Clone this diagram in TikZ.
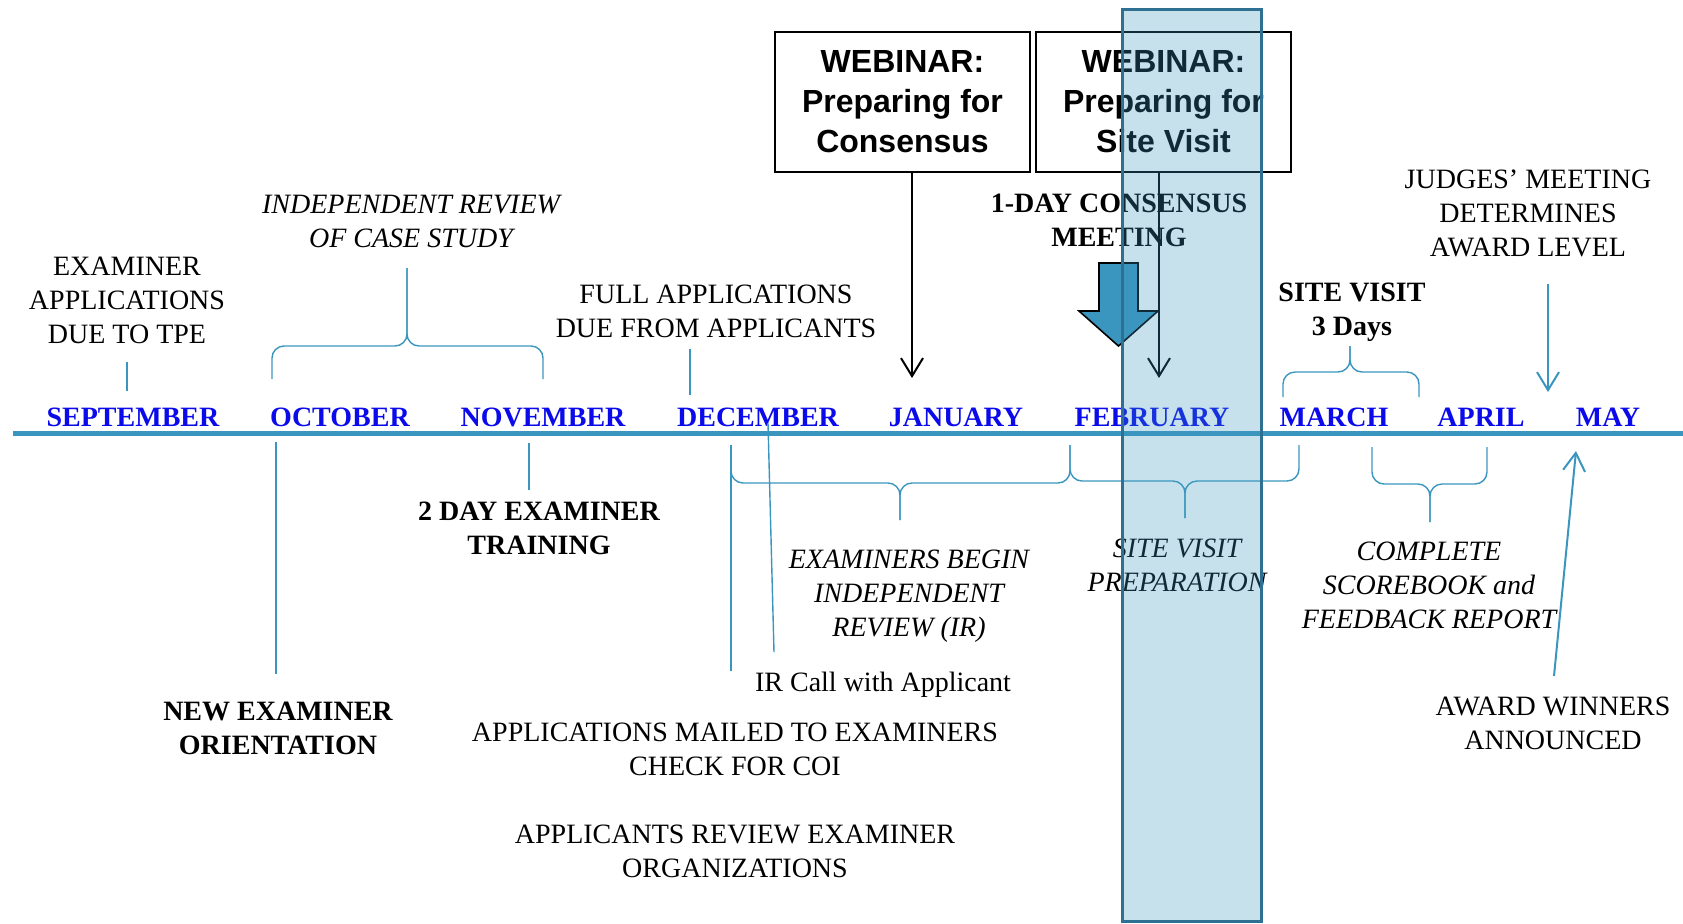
\documentclass[tikz,border=0pt]{standalone}
\usepackage{fontspec}
\setmainfont{Liberation Serif}
\newfontfamily\boxfont{Liberation Sans}
\usetikzlibrary{arrows.meta, positioning}
\definecolor{lineblue}{RGB}{58,150,190}
\definecolor{darkteal}{RGB}{45,112,145}
\definecolor{monthblue}{RGB}{10,10,235}

\begin{document}
\begin{tikzpicture}[
    x=0.5pt, y=-0.5pt,
    every node/.style={align=center, inner sep=0pt, font=\fontsize{14}{17}\selectfont},
    month/.style={font=\fontsize{14}{17}\selectfont\bfseries, text=monthblue, anchor=base},
    boldtxt/.style={font=\fontsize{14}{17}\selectfont\bfseries},
    italtxt/.style={font=\fontsize{14}{17}\selectfont\itshape},
    webinar/.style={draw=black, line width=1pt, minimum width=127.5pt, minimum height=70pt, font=\fontsize{16}{20}\selectfont\boxfont\bfseries},
    tick/.style={draw=lineblue, line width=0.7pt},
    brace/.style={draw=lineblue, line width=0.7pt, rounded corners=6pt},
    arrow/.style={->, >={Straight Barb[length=9pt, width=11pt]}, line width=1pt}
]
\useasboundingbox (0,0) rectangle (1683,923);

% months along the line
\draw[lineblue, line width=2.5pt] (13,433.5) -- (1683,433.5);
\node[month] (sep) at (133,426) {SEPTEMBER};
\node[month] (oct) at (340,426) {OCTOBER};
\node[month] (nov) at (543,426) {NOVEMBER};
\node[month] (dec) at (758,426) {DECEMBER};
\node[month] (jan) at (956,426) {JANUARY};
\node[month] (feb) at (1152,426) {FEBRUARY};
\node[month] (mar) at (1334,426) {MARCH};
\node[month] (apr) at (1481,426) {APRIL};
\node[month] (may) at (1608,426) {MAY};

% above the line
\node (examapp) at (127,300) {EXAMINER\\APPLICATIONS\\DUE TO TPE};
\node[italtxt] (casestudy) at (411,221) {INDEPENDENT REVIEW\\OF CASE STUDY};
\node (fullapp) at (716,311) {FULL APPLICATIONS\\DUE FROM APPLICANTS};
\node[webinar] (webcons) at (902.5,102) {WEBINAR:\\Preparing for\\Consensus};
\node[webinar] (website) at (1163.5,102) {WEBINAR:\\Preparing for\\Site Visit};
\node[boldtxt] (consmeet) at (1119,220) {1-DAY CONSENSUS\\MEETING};
\node[boldtxt] (sitevisit) at (1352,312) {SITE VISIT\\3 Days};
\node (judges) at (1528,213) {JUDGES' MEETING\\DETERMINES\\AWARD LEVEL};

\draw[tick] (127,362) -- (127,391);
\draw[tick] (690,349) -- (690,395);
\draw[brace] (272,379) |- (407,346) -- (407,268);
\draw[brace] (543,379) |- (407,346) -- (407,268);
\draw[brace] (1283,397) |- (1350,372) -- (1350,346);
\draw[brace] (1419,397) |- (1350,372) -- (1350,346);

\coordinate (janend) at (912,378);
\coordinate (febend) at (1159,378);
\coordinate (judgestart) at (1548,284);
\coordinate (judgeend) at (1548,392);
\draw[arrow] (webcons.south -| janend) -- (janend);
\draw[arrow] (website.south -| febend) -- (febend);
\draw[arrow, lineblue] (judgestart) -- (judgeend);

\draw[fill=lineblue, draw=black, line width=0.8pt] (1099,263) -- (1138,263) -- (1138,311) -- (1158,311) -- (1118.5,346) -- (1079,311) -- (1099,311) -- cycle;

% below the line
\node[boldtxt] (orient) at (278,728) {NEW EXAMINER\\ORIENTATION};
\node[boldtxt] (training) at (539,528) {2 DAY EXAMINER\\TRAINING};
\node[italtxt] (irbegin) at (909,596) {EXAMINERS BEGIN\\INDEPENDENT\\REVIEW (IR)};
\node[italtxt] (siteprep) at (1177,565) {SITE VISIT\\PREPARATION};
\node[italtxt] (scorebook) at (1429,585) {COMPLETE\\SCOREBOOK and\\FEEDBACK REPORT};
\node (ircall) at (883,685) {IR Call with Applicant};
\node (mailed) at (735,749) {APPLICATIONS MAILED TO EXAMINERS\\CHECK FOR COI};
\node (appreview) at (735,851) {APPLICANTS REVIEW EXAMINER\\ORGANIZATIONS};
\node (winners) at (1553,723) {AWARD WINNERS\\ANNOUNCED};

\draw[tick] (276,442) -- (276,674);
\draw[tick] (529,443) -- (529,490);
\draw[tick] (731,445) -- (731,671);
\draw[tick] (768,423) -- (774,652);
\draw[brace] (731,445) |- (900,483) -- (900,520);
\draw[brace] (1070,445) |- (900,483) -- (900,520);
\draw[brace] (1070,445) |- (1185,481) -- (1185,518);
\draw[brace] (1299,445) |- (1185,481) -- (1185,518);
\draw[brace] (1372,447) |- (1430,484) -- (1430,522);
\draw[brace] (1487,447) |- (1430,484) -- (1430,522);

\coordinate (winstart) at (1554,676);
\coordinate (winend) at (1576,451);
\draw[arrow, lineblue] (winstart) -- (winend);

% february band
\draw[draw=darkteal, line width=1.5pt, fill=lineblue, fill opacity=0.29] (1122,9) rectangle (1261,921);

\end{tikzpicture}
\end{document}
